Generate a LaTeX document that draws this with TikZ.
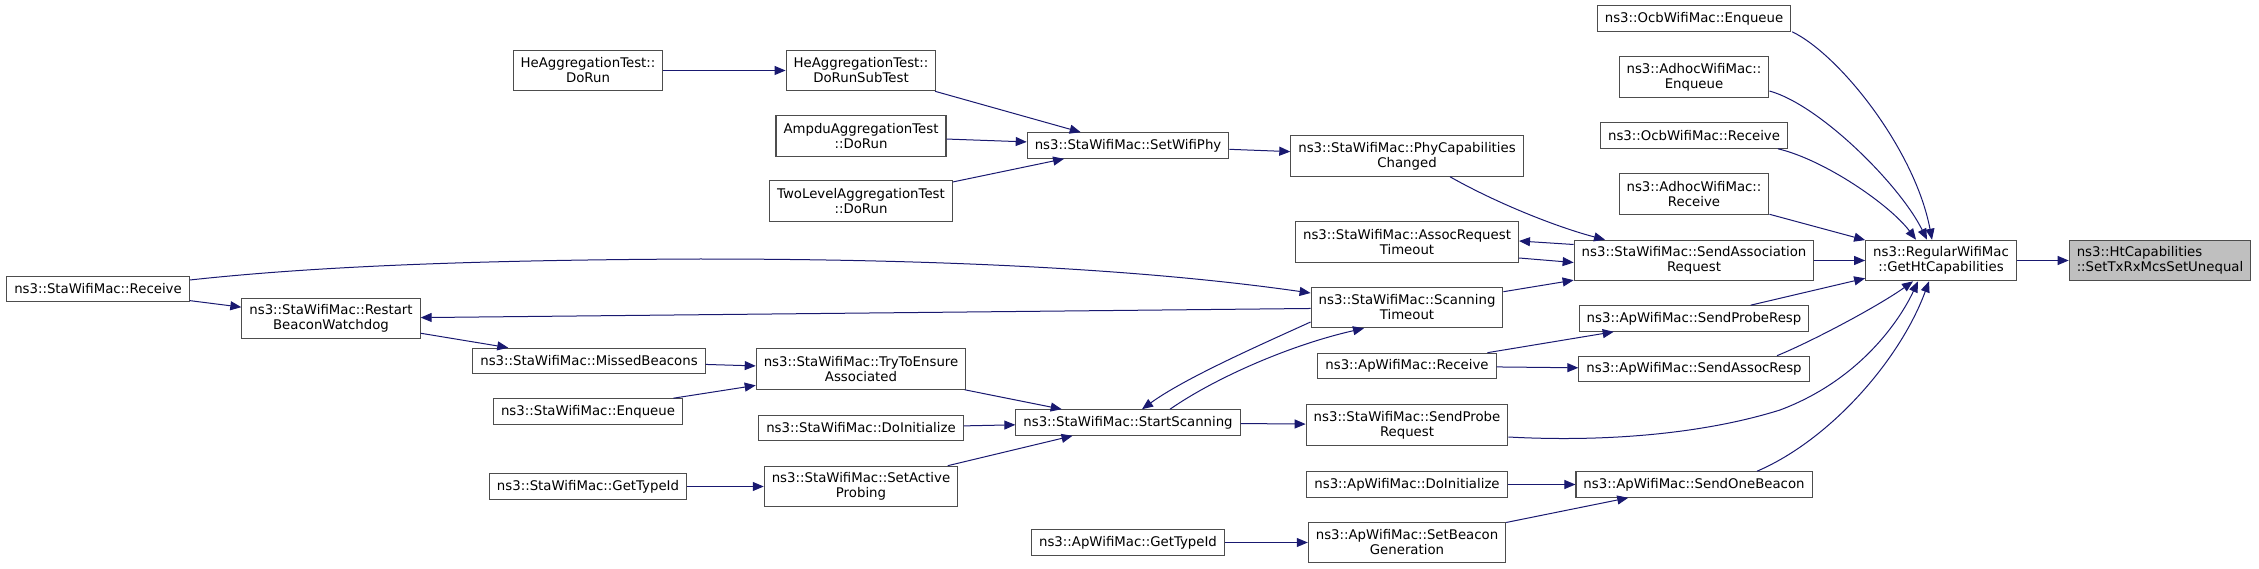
\documentclass[tikz,border=0pt]{standalone}
\usepackage{fontspec}
\setmainfont{DejaVu Sans}
\usetikzlibrary{arrows.meta,calc}
\definecolor{edgeblue}{HTML}{191970}
\definecolor{boxline}{HTML}{4D4D4D}
\definecolor{rootfill}{HTML}{BFBFBF}
\begin{document}
\begin{tikzpicture}[x=1pt,y=1pt,
  box/.style={draw=boxline,line width=1.1pt,fill=white,inner xsep=7.5pt,inner ysep=0pt,align=center,font=\fontsize{13.3}{15}\selectfont},
  bone/.style={box,minimum height=25.5pt},
  btwo/.style={box,minimum height=40.5pt},
  e/.style={draw=edgeblue,line width=1pt,-{Triangle[length=11pt,width=9pt]}}]
\useasboundingbox (0,0) rectangle (2259,-569);
% column 0
\node[bone] (sr) at (98,-289) {ns3::StaWifiMac::Receive};
% column 1
\node[btwo] (rbw) at (331,-318.5) {ns3::StaWifiMac::Restart\\BeaconWatchdog};
% column 2
\node[btwo] (hedr) at (588,-70.5) {HeAggregationTest::\\DoRun};
\node[bone] (mb) at (589,-361) {ns3::StaWifiMac::MissedBeacons};
\node[bone] (senq) at (588,-411.5) {ns3::StaWifiMac::Enqueue};
\node[bone] (sgt) at (588,-486.5) {ns3::StaWifiMac::GetTypeId};
% column 3
\node[btwo] (hesub) at (861,-70.5) {HeAggregationTest::\\DoRunSubTest};
\node[btwo] (ampdu) at (861,-136) {AmpduAggregationTest\\::DoRun};
\node[btwo] (twol) at (861,-201) {TwoLevelAggregationTest\\::DoRun};
\node[btwo] (tte) at (861,-369) {ns3::StaWifiMac::TryToEnsure\\Associated};
\node[bone] (sdi) at (861,-428) {ns3::StaWifiMac::DoInitialize};
\node[btwo] (sap) at (861,-486.5) {ns3::StaWifiMac::SetActive\\Probing};
% column 4
\node[bone] (swp) at (1128,-145.5) {ns3::StaWifiMac::SetWifiPhy};
\node[bone] (ss) at (1128,-422.5) {ns3::StaWifiMac::StartScanning};
\node[bone] (agt) at (1128,-542.5) {ns3::ApWifiMac::GetTypeId};
% column 5
\node[btwo] (pcc) at (1407,-156) {ns3::StaWifiMac::PhyCapabilities\\Changed};
\node[btwo] (art) at (1407,-242) {ns3::StaWifiMac::AssocRequest\\Timeout};
\node[btwo] (st) at (1407,-307.5) {ns3::StaWifiMac::Scanning\\Timeout};
\node[bone] (arcv) at (1407,-366) {ns3::ApWifiMac::Receive};
\node[btwo] (spr) at (1407,-425) {ns3::StaWifiMac::SendProbe\\Request};
\node[bone] (adi) at (1407,-484.5) {ns3::ApWifiMac::DoInitialize};
\node[btwo] (sbg) at (1407,-542.5) {ns3::ApWifiMac::SetBeacon\\Generation};
% column 6
\node[bone] (oenq) at (1694,-18.5) {ns3::OcbWifiMac::Enqueue};
\node[btwo] (aenq) at (1694,-77) {ns3::AdhocWifiMac::\\Enqueue};
\node[bone] (orcv) at (1694,-135.5) {ns3::OcbWifiMac::Receive};
\node[btwo] (arc2) at (1694,-194) {ns3::AdhocWifiMac::\\Receive};
\node[btwo] (sar) at (1694,-260.5) {ns3::StaWifiMac::SendAssociation\\Request};
\node[bone] (sprs) at (1694,-318.5) {ns3::ApWifiMac::SendProbeResp};
\node[bone] (sars) at (1694,-369) {ns3::ApWifiMac::SendAssocResp};
\node[bone] (sob) at (1694,-484.5) {ns3::ApWifiMac::SendOneBeacon};
% column 7, 8
\node[btwo] (ght) at (1941,-260.5) {ns3::RegularWifiMac\\::GetHtCapabilities};
\node[btwo,fill=rootfill,align=left] (htc) at (2160,-260.5) {ns3::HtCapabilities\\::SetTxRxMcsSetUnequal};
% edges
\draw[e] (hedr) -- (hesub);
\draw[e] (hesub) -- (swp);
\draw[e] (ampdu) -- (swp);
\draw[e] (twol) -- (swp);
\draw[e] (swp) -- (pcc);
\draw[e] ($(pcc.south)+(43,0)$) .. controls (1500,-205) and (1560,-228) .. ($(sar.north)+(-89,0)$);
\draw[e] ($(sar.west)+(0,16)$) -- ($(art.east)+(0,1)$);
\draw[e] ($(art.east)+(0,-16)$) -- ($(sar.west)+(0,-2)$);
\draw[e] (st) -- (sar);
\draw[e] (sar) -- (ght);
\draw[e] (ght) -- (htc);
\draw[e] ($(oenq.south east)+(1,0)$) .. controls (1840,-55) and (1915,-150) .. ($(ght.north)+(-9,0)$);
\draw[e] ($(aenq.east)+(0,-14)$) .. controls (1820,-105) and (1900,-185) .. ($(ght.north)+(-14,0)$);
\draw[e] ($(orcv.south east)+(-10,0)$) .. controls (1825,-160) and (1890,-205) .. ($(ght.north)+(-25,0)$);
\draw[e] (arc2) -- (ght);
\draw[e] (sprs) -- (ght);
\draw[e] ($(sars.north)+(83,0)$) .. controls (1815,-340) and (1880,-305) .. ($(ght.south)+(-28,0)$);
\draw[e] ($(spr.east)+(0,-12)$) .. controls (1600,-442) and (1700,-435) .. (1780,-410) .. controls (1860,-380) and (1900,-320) .. ($(ght.south)+(-23,0)$);
\draw[e] ($(sob.north)+(63,0)$) .. controls (1830,-440) and (1900,-360) .. ($(ght.south)+(-12,0)$);
\draw[e] (arcv) -- (sprs);
\draw[e] (arcv) -- (sars);
\draw[e] (adi) -- (sob);
\draw[e] (sbg) -- (sob);
\draw[e] (agt) -- (sbg);
\draw[e] (ss) -- (spr);
\draw[e] ($(ss.north)+(42,0)$) .. controls (1215,-378) and (1290,-345) .. ($(st.south)+(-43,0)$);
\draw[e] ($(st.west)+(0,-14.5)$) .. controls (1260,-345) and (1185,-378) .. ($(ss.north)+(14,0)$);
\draw[e] (st) -- (rbw);
\draw[e] ($(sr.east)+(0,9)$) .. controls (300,-268) and (450,-260) .. (700,-259) .. controls (950,-259) and (1150,-270) .. ($(st.west)+(0,14.5)$);
\draw[e] (sr) -- (rbw);
\draw[e] (rbw) -- (mb);
\draw[e] (mb) -- (tte);
\draw[e] (senq) -- (tte);
\draw[e] (tte) -- (ss);
\draw[e] (sdi) -- (ss);
\draw[e] (sap) -- (ss);
\draw[e] (sgt) -- (sap);
\end{tikzpicture}
\end{document}
